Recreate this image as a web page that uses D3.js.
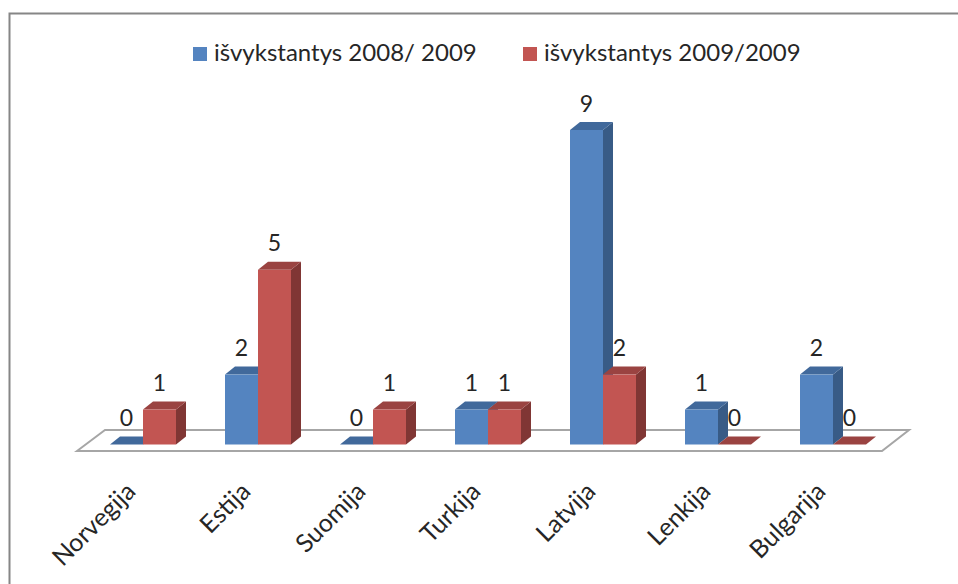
<!DOCTYPE html>
<html>
<head>
<meta charset="utf-8">
<script src="https://d3js.org/d3.v7.min.js"></script>
<style>
  html, body { margin: 0; padding: 0; background: #fff; }
  svg { display: block; }
  text { font-family: Lato, "Open Sans", sans-serif; fill: #262626; }
</style>
</head>
<body>
<div id="chart"></div>
<script>
// Chart values
var categories = ["Norvegija", "Estija", "Suomija", "Turkija", "Latvija", "Lenkija", "Bulgarija"];
var seriesNames = ["išvykstantys 2008/ 2009", "išvykstantys 2009/2009"];
var series2008 = [0, 2, 0, 1, 9, 1, 2];
var series2009 = [1, 5, 1, 1, 2, 0, 0];

// Front, top and side colours for each series
var colors = [
    { front: "#5484c0", top: "#41699b", side: "#385b86" },
    { front: "#c25552", top: "#9a4341", side: "#803634" }
];

var svgWidth = 958;
var svgHeight = 584;

// Fake 3d depth of the bars
var depthX = 10;
var depthY = 8;
var baseline = 444.5;

var svg = d3.select("#chart")
  .append("svg")
  .attr("width", svgWidth)
  .attr("height", svgHeight);

// Chart frame, only the top and left edges are in the picture
svg.append("path")
    .attr("d", "M9.5,584V13.5H958")
    .attr("fill", "none")
    .attr("stroke", "#868686")
    .attr("stroke-width", 2);

var xScale = d3.scaleBand()
    .domain(categories)
    .range([85.5, 890.5])
    .padding(0);

var yScale = d3.scaleLinear()
    .domain([0, 9])
    .range([baseline, 130]);

var barWidth = 33;

// Floor of the chart
svg.append("path")
    .attr("d", "M77,451L105,430H909L882,451Z")
    .attr("fill", "#fff")
    .attr("stroke", "#a6a6a6")
    .attr("stroke-width", 2);

// One row per bar, red goes after blue so it sits in front
var bars = [];
[series2008, series2009].forEach(function(values, s) {
    values.forEach(function(v, i) {
        bars.push({ cat: categories[i], value: v, series: s });
    });
});

function barLeft(d) {
    var center = xScale(d.cat) + xScale.bandwidth() / 2;
    return d.series === 0 ? center - barWidth : center;
}

function topPath(d) {
    var x = barLeft(d), y = yScale(d.value);
    return `M${x},${y}l${depthX},${-depthY}h${barWidth}l${-depthX},${depthY}Z`;
}

function sidePath(d) {
    var x = barLeft(d) + barWidth, y = yScale(d.value);
    return `M${x},${y}l${depthX},${-depthY}V${baseline - depthY}l${-depthX},${depthY}Z`;
}

var barGroups = svg.selectAll(".bar")
    .data(bars)
    .enter()
    .append("g")
    .attr("class", "bar");

barGroups.filter(d => d.value > 0).append("path")
    .attr("d", sidePath)
    .attr("fill", d => colors[d.series].side);

barGroups.append("path")
    .attr("d", topPath)
    .attr("fill", d => colors[d.series].top);

barGroups.filter(d => d.value > 0).append("rect")
    .attr("x", barLeft)
    .attr("y", d => yScale(d.value))
    .attr("width", barWidth)
    .attr("height", d => baseline - yScale(d.value))
    .attr("fill", d => colors[d.series].front);

// Value labels
svg.selectAll(".valueLabel")
    .data(bars)
    .enter()
    .append("text")
    .attr("class", "valueLabel")
    .attr("x", d => barLeft(d) + barWidth / 2)
    .attr("y", d => yScale(d.value) - 18.5)
    .attr("text-anchor", "middle")
    .attr("font-size", "23px")
    .text(d => d.value);

// Category labels
var bottomAxis = d3.axisBottom(xScale).tickSize(0).tickPadding(0);

var axisGroup = svg.append("g")
    .attr("transform", "translate(0, 470)")
    .call(bottomAxis);

axisGroup.select(".domain").remove();

axisGroup.attr("font-family", null).attr("font-size", null);

axisGroup.selectAll("text")
    .attr("font-size", "25px")
    .attr("text-anchor", "end")
    .attr("dy", null)
    .attr("x", -6)
    .attr("y", 23)
    .attr("transform", "rotate(-45 -6 23)");

// Legend
var legendX = [193, 523];

var legend = svg.selectAll(".legendItem")
    .data(seriesNames)
    .enter()
    .append("g")
    .attr("class", "legendItem")
    .attr("transform", (d, i) => `translate(${legendX[i]}, 47)`);

legend.append("rect")
    .attr("width", 14)
    .attr("height", 14)
    .attr("fill", (d, i) => colors[i].front);

legend.append("text")
    .attr("x", 21)
    .attr("y", 14)
    .attr("font-size", "24px")
    .text(d => d);
</script>
</body>
</html>
